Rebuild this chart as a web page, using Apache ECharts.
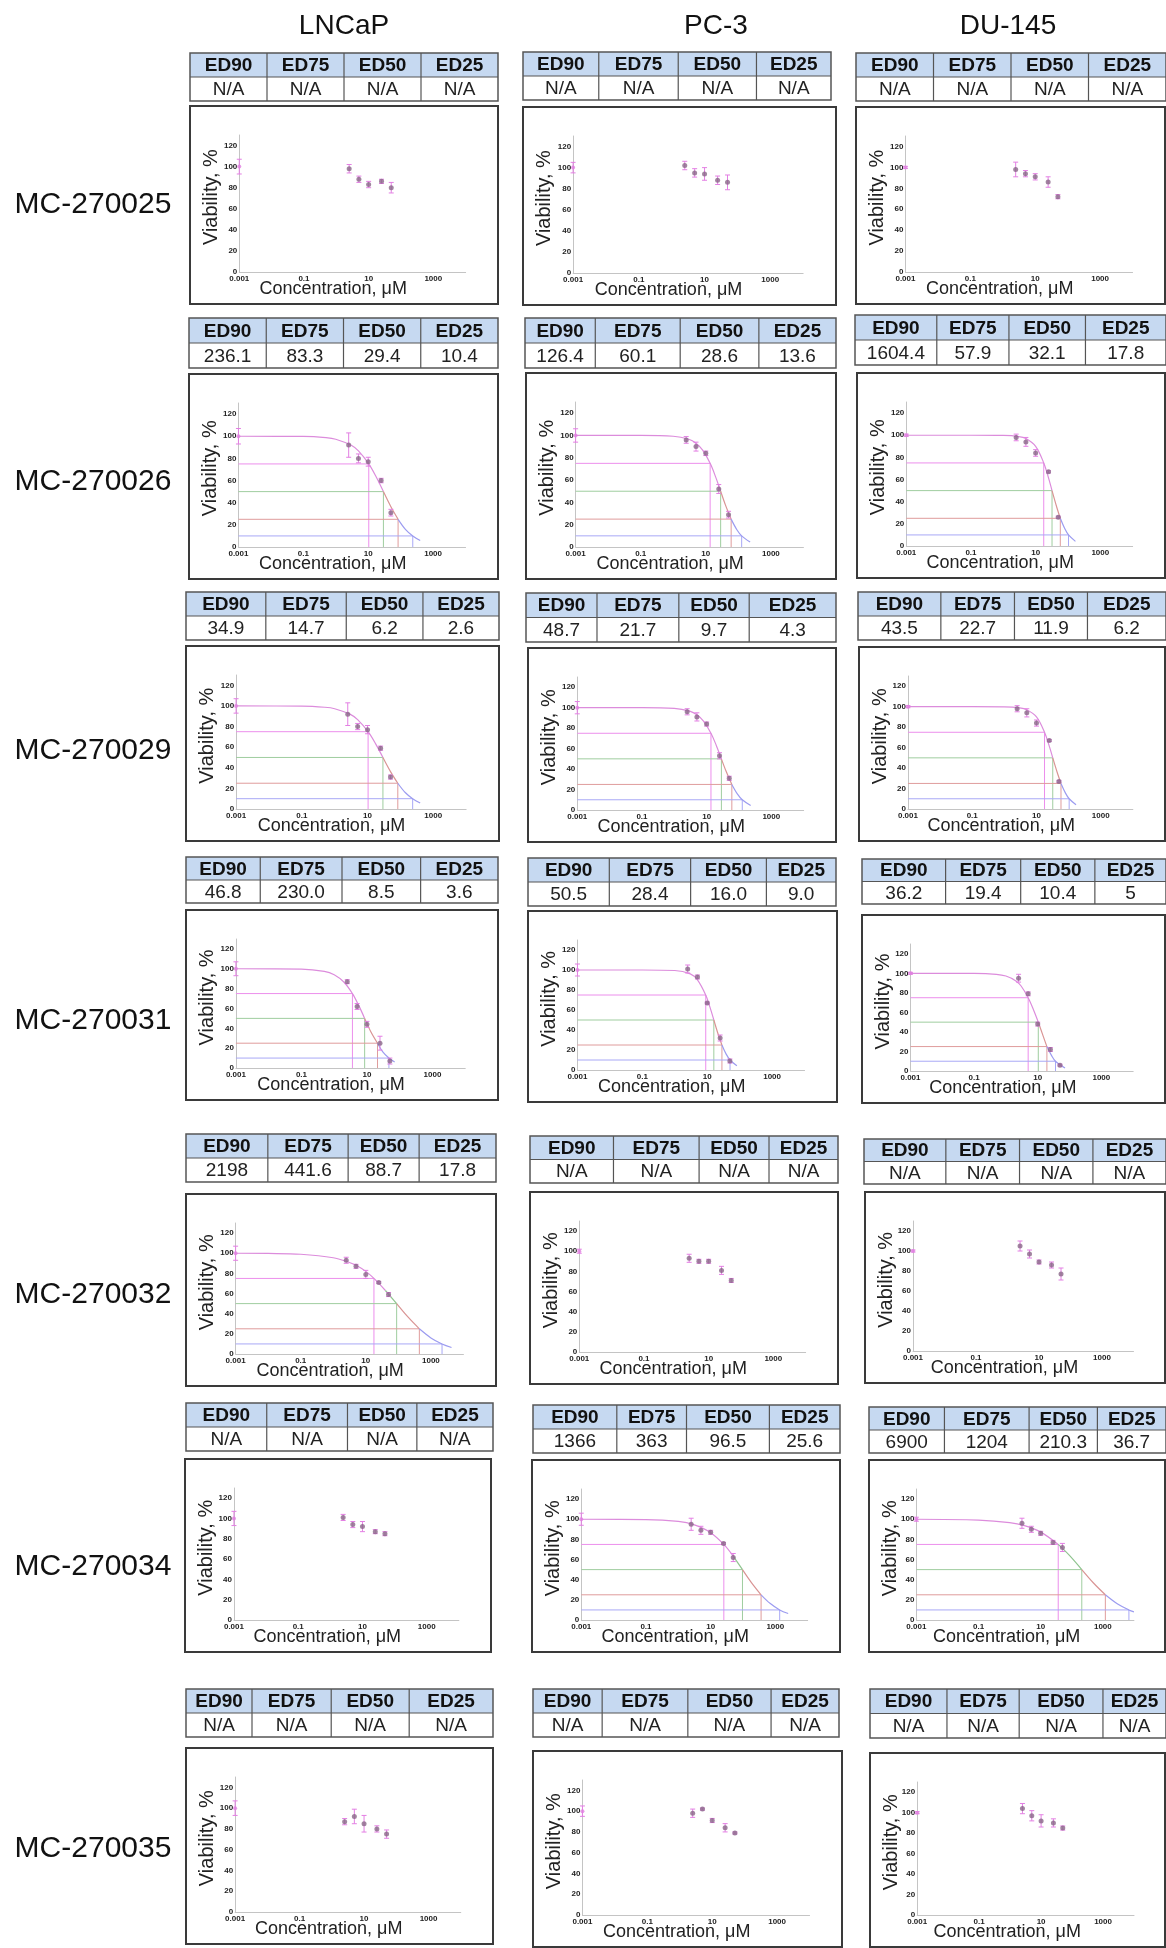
<!DOCTYPE html>
<html>
<head>
<meta charset="utf-8">
<script src="https://cdn.jsdelivr.net/npm/echarts/dist/echarts.min.js"></script>
<style>
html,body{margin:0;padding:0;background:#fff;}
#main{width:1166px;height:1948px;}
</style>
</head>
<body>
<div id="main"></div>
<script>
// ---- data ----
var cellLines = ['LNCaP', 'PC-3', 'DU-145'];
var compounds = ['MC-270025', 'MC-270026', 'MC-270029', 'MC-270031', 'MC-270032', 'MC-270034', 'MC-270035'];
var edHeaders = ['ED90', 'ED75', 'ED50', 'ED25'];
var conc = [2.5, 5, 10, 25, 50];
var ctrlConc = 0.001;
var ctrlValue = 100;
var xTickValues = [0.001, 0.1, 10, 1000];
var xTickLabels = ['0.001', '0.1', '10', '1000'];
var refLevels = [75, 50, 25, 10];

var NA = ['N/A', 'N/A', 'N/A', 'N/A'];
var edTable = [
    [NA, NA, NA],
    [['236.1', '83.3', '29.4', '10.4'], ['126.4', '60.1', '28.6', '13.6'], ['1604.4', '57.9', '32.1', '17.8']],
    [['34.9', '14.7', '6.2', '2.6'], ['48.7', '21.7', '9.7', '4.3'], ['43.5', '22.7', '11.9', '6.2']],
    [['46.8', '230.0', '8.5', '3.6'], ['50.5', '28.4', '16.0', '9.0'], ['36.2', '19.4', '10.4', '5']],
    [['2198', '441.6', '88.7', '17.8'], NA, NA],
    [NA, ['1366', '363', '96.5', '25.6'], ['6900', '1204', '210.3', '36.7']],
    [NA, NA, NA]
];

// viability (%) at each concentration, per compound row and cell line column
var viability = [
    [[98, 88, 83, 86, 80], [102, 95, 94, 88, 86], [98, 94, 91, 86, 72]],
    [[92, 80, 77, 60, 31], [96, 90, 84, 52, 29], [98, 94, 84, 67, 26]],
    [[92, 80, 77, 59, 31], [96, 91, 84, 53, 31], [98, 94, 84, 67, 27]],
    [[87, 62, 44, 25, 7], [101, 93, 67, 32, 9], [95, 79, 48, 22, 6]],
    [[93, 87, 79, 71, 59], [93, 90, 90, 81, 71], [105, 97, 89, 86, 77]],
    [[101, 94, 92, 87, 85], [95, 89, 87, 76, 62], [96, 90, 86, 77, 72]],
    [[87, 92, 85, 80, 75], [98, 102, 91, 84, 79], [104, 97, 92, 90, 85]]
];
var viabilitySd = [
    [[4, 3, 3, 2, 5], [4, 4, 6, 4, 7], [7, 3, 3, 5, 2]],
    [[11, 4, 4, 2, 3], [3, 4, 2, 4, 3], [3, 4, 3, 1, 1]],
    [[11, 3, 4, 2, 2], [3, 4, 2, 3, 2], [3, 4, 3, 1, 1]],
    [[2, 3, 3, 7, 3], [4, 2, 1, 3, 2], [4, 2, 2, 2, 1]],
    [[3, 2, 4, 1, 2], [4, 2, 2, 4, 2], [5, 4, 2, 3, 6]],
    [[3, 3, 5, 2, 2], [6, 4, 2, 1, 4], [5, 3, 2, 2, 4]],
    [[3, 7, 8, 3, 4], [4, 1, 2, 4, 1], [5, 5, 6, 4, 2]]
];
var ctrlSd = [[7, 5, 1], [7, 6, 1], [7, 6, 1], [7, 6, 1], [7, 2, 1], [7, 6, 2], [7, 5, 1]];

// fitted curves read as [concentration, viability] points
var curveLN26 = [[0.001, 100], [0.1, 99.8], [0.5, 98.7], [1, 97.3], [3, 91.8], [5, 86.7], [10.4, 75], [18, 62.7], [29.4, 50], [50, 36.3], [83.3, 25], [140, 16], [236.1, 10], [400, 5.9]];
var curvePC26 = [[0.001, 100], [0.1, 100], [1, 99.3], [3, 96.6], [5, 93], [8, 86.8], [13.6, 75], [20, 62.9], [28.6, 50], [40, 37.8], [60.1, 25], [90, 15.5], [126.4, 10], [230, 4.4]];
var curveDU26 = [[0.001, 100], [0.1, 100], [1, 99.8], [3, 98.8], [5, 97], [10, 90], [17.8, 75], [25, 61.5], [32.1, 50], [45, 35], [57.9, 25], [80, 15.5], [104, 10], [170, 4.2]];
var curveLN31 = [[0.001, 100], [0.1, 99.7], [0.5, 97.4], [1, 93.9], [2, 86.4], [3.6, 75], [5.5, 63.6], [8.5, 50], [13, 36.8], [21, 25], [30, 16.6], [46.8, 10], [70, 6]];
var curvePC31 = [[0.001, 100], [0.1, 100], [1, 99.5], [3, 96.1], [5, 90.2], [9, 75], [12, 63.4], [16, 50], [21, 37.3], [28.4, 25], [38, 16.1], [50.5, 10], [82, 4.2]];
var curveDU31 = [[0.001, 100], [0.1, 99.9], [0.5, 99], [1, 97.2], [2, 92.5], [3, 87], [5, 75], [7.5, 62], [10.4, 50], [14, 38], [19.4, 25], [27, 16], [36.2, 10], [72, 3]];
var curveLN32 = [[0.001, 100], [0.01, 99.8], [0.1, 99], [1, 95.5], [3, 91], [5, 88], [10, 82], [17.8, 75], [40, 63], [88.7, 50], [200, 36.5], [441.6, 25], [1000, 16], [2198, 10], [4300, 6.5]];
var curvePC34 = [[0.001, 100], [0.1, 99.7], [1, 97.8], [3, 94.6], [10, 86.7], [25.6, 75], [50, 63.3], [96.5, 50], [180, 37.4], [363, 25], [700, 16.3], [1366, 10], [2500, 6.4]];
var curveDU34 = [[0.001, 100], [0.1, 99.2], [1, 96.7], [3, 93.6], [10, 87.2], [36.7, 75], [80, 64.8], [210.3, 50], [500, 36.7], [1204, 25], [3000, 15.8], [6900, 10], [10000, 8.1]];

var curves = [
    [null, null, null],
    [curveLN26, curvePC26, curveDU26],
    [curveLN26, curvePC26, curveDU26],
    [curveLN31, curvePC31, curveDU31],
    [curveLN32, null, null],
    [null, curvePC34, curveDU34],
    [null, null, null]
];
// concentration where the curve crosses 75, 50, 25 and 10 %
var crossX = [
    [null, null, null],
    [[10.4, 29.4, 83.3, 236.1], [13.6, 28.6, 60.1, 126.4], [17.8, 32.1, 57.9, 104]],
    [[10.4, 29.4, 83.3, 236.1], [13.6, 28.6, 60.1, 126.4], [17.8, 32.1, 57.9, 104]],
    [[3.6, 8.5, 21, 46.8], [9, 16, 28.4, 50.5], [5, 10.4, 19.4, 36.2]],
    [[17.8, 88.7, 441.6, 2198], null, null],
    [null, [25.6, 96.5, 363, 1366], [36.7, 210.3, 1204, 6900]],
    [null, null, null]
];

// ---- layout (px) ----
var boxPos = [
    [[190, 106, 308, 198], [523, 107, 313, 198], [856, 107, 309, 197]],
    [[189, 374, 309, 205], [526, 373, 310, 206], [857, 373, 308, 205]],
    [[186, 646, 313, 195], [528, 648, 308, 194], [859, 647, 306, 194]],
    [[186, 910, 312, 190], [528, 911, 309, 191], [862, 915, 303, 188]],
    [[186, 1194, 310, 192], [530, 1192, 308, 192], [865, 1192, 300, 191]],
    [[185, 1459, 306, 193], [532, 1460, 308, 192], [869, 1460, 296, 192]],
    [[186, 1748, 307, 196], [533, 1751, 309, 196], [870, 1753, 295, 194]]
];
var tablePos = [
    [[190, 53, 308, 48], [523, 52, 308, 48], [856, 53, 310, 48]],
    [[189, 318, 309, 50], [525, 318, 311, 50], [855, 315, 311, 50]],
    [[186, 592, 313, 48], [526, 593, 310, 49], [858, 592, 308, 48]],
    [[186, 857, 312, 46], [528, 858, 308, 48], [862, 859, 304, 45]],
    [[186, 1134, 310, 48], [530, 1136, 308, 47], [864, 1139, 302, 45]],
    [[186, 1403, 307, 48], [533, 1405, 307, 48], [869, 1407, 297, 46]],
    [[186, 1689, 307, 48], [533, 1689, 306, 48], [870, 1689, 296, 49]]
];
var colSplit = [
    [[.25, .5, .75], [.246, .504, .758], [.25, .5, .75]],
    [[.25, .5, .75], [.226, .499, .752], [.263, .495, .741]],
    [[.255, .512, .757], [.229, .493, .72], [.269, .508, .745]],
    [[.238, .5, .752], [.264, .528, .774], [.275, .522, .766]],
    [[.264, .523, .752], [.271, .549, .776], [.271, .515, .758]],
    [[.263, .526, .752], [.273, .5, .77], [.254, .539, .769]],
    [[.215, .473, .727], [.226, .506, .778], [.26, .504, .787]]
];
var rowLabelY = [205, 482, 751, 1021, 1295, 1567, 1849];
var colTitleX = [344, 716, 1008];

var FONT = '"Liberation Sans", Arial, sans-serif';
var refColors = ['#ec8eec', '#9fcd9f', '#df9c9c', '#a8a8f6'];
var curveColors = ['#dc8cdc', '#8fc48f', '#d99494', '#9c9cf0'];

var grids = [], xAxes = [], yAxes = [], series = [], graphics = [];

function txt(text, x, y, font, color, rot) {
    var el = {
        type: 'text', x: x, y: y, silent: true,
        style: {
            text: text, x: 0, y: 0, font: font, fill: color || '#111',
            align: 'center', verticalAlign: 'middle',
            textAlign: 'center', textVerticalAlign: 'middle'
        }
    };
    if (rot) el.rotation = rot;
    return el;
}

function curveColor(p, q) {
    var my = (p[1] + q[1]) / 2;
    if (my >= 75 || (q[0] <= 50 && my >= 50)) return curveColors[0];
    if (my >= 50) return curveColors[1];
    if (my >= 25) return curveColors[2];
    return curveColors[3];
}

function renderErr(params, api) {
    var x = api.value(0), y = api.value(1), e = api.value(2);
    var hi = api.coord([x, y + e]), lo = api.coord([x, y - e]);
    var st = {stroke: '#e37fe3', lineWidth: 1};
    return {
        type: 'group',
        children: [
            {type: 'line', shape: {x1: hi[0], y1: hi[1], x2: lo[0], y2: lo[1]}, style: st},
            {type: 'line', shape: {x1: hi[0] - 2.5, y1: hi[1], x2: hi[0] + 2.5, y2: hi[1]}, style: st},
            {type: 'line', shape: {x1: lo[0] - 2.5, y1: lo[1], x2: lo[0] + 2.5, y2: lo[1]}, style: st}
        ]
    };
}

function xLabel(v) {
    var e = Math.round(Math.log(v) / Math.LN10);
    for (var i = 0; i < xTickValues.length; i++) {
        if (Math.round(Math.log(xTickValues[i]) / Math.LN10) === e) return xTickLabels[i];
    }
    return '';
}

function addTable(t, split, vals) {
    var x = t[0], y = t[1], w = t[2], h = t[3], hh = h / 2;
    graphics.push({type: 'rect', silent: true, shape: {x: x, y: y, width: w, height: hh}, style: {fill: '#c6d9f1'}});
    graphics.push({type: 'rect', silent: true, shape: {x: x, y: y, width: w, height: h}, style: {fill: 'none', stroke: '#555', lineWidth: 1.5}});
    graphics.push({type: 'line', silent: true, shape: {x1: x, y1: y + hh, x2: x + w, y2: y + hh}, style: {stroke: '#555', lineWidth: 1.2}});
    var edges = [0].concat(split, [1]);
    for (var k = 1; k < 4; k++) {
        var lx = x + w * edges[k];
        graphics.push({type: 'line', silent: true, shape: {x1: lx, y1: y, x2: lx, y2: y + h}, style: {stroke: '#555', lineWidth: 1.2}});
    }
    for (var k = 0; k < 4; k++) {
        var cx = x + w * (edges[k] + edges[k + 1]) / 2;
        graphics.push(txt(edHeaders[k], cx, y + hh / 2 + 1, 'bold 19px ' + FONT, '#111'));
        graphics.push(txt(vals[k], cx, y + hh + hh / 2 + 1, '19px ' + FONT, '#222'));
    }
}

// titles
for (var c = 0; c < 3; c++) graphics.push(txt(cellLines[c], colTitleX[c], 26, '28px ' + FONT, '#111'));
for (var r = 0; r < 7; r++) graphics.push(txt(compounds[r], 93, rowLabelY[r], '30px ' + FONT, '#111'));

for (var r = 0; r < 7; r++) {
    for (var c = 0; c < 3; c++) {
        var idx = grids.length;
        var b = boxPos[r][c];
        grids.push({left: b[0] + b[2] * 0.16, top: b[1] + 29, width: b[2] * 0.735, height: b[3] - 61, outerBoundsMode: 'none'});
        xAxes.push({
            gridIndex: idx, type: 'log', logBase: 10, min: 0.001, max: 10000,
            axisLine: {lineStyle: {color: '#c4c4c4', width: 1}},
            axisTick: {show: false}, splitLine: {show: false},
            axisLabel: {interval: 0, fontSize: 8, fontWeight: 'bold', color: '#222', margin: 3, fontFamily: FONT, formatter: xLabel}
        });
        yAxes.push({
            gridIndex: idx, type: 'value', min: 0, max: 130, interval: 20,
            axisLine: {show: true, lineStyle: {color: '#c4c4c4', width: 1}},
            axisTick: {show: false}, splitLine: {show: false},
            axisLabel: {fontSize: 8, fontWeight: 'bold', color: '#222', margin: 2, fontFamily: FONT,
                formatter: function (v) { return v > 120 ? '' : String(v); }}
        });

        // reference lines at 75/50/25/10 %
        var cx4 = crossX[r][c];
        if (cx4) {
            for (var k = 0; k < 4; k++) {
                series.push({
                    type: 'line', xAxisIndex: idx, yAxisIndex: idx, symbol: 'none', z: 1, silent: true,
                    lineStyle: {color: refColors[k], width: 1},
                    data: [[0.001, refLevels[k]], [cx4[k], refLevels[k]], [cx4[k], 0]]
                });
            }
        }
        // fitted curve, split into coloured runs
        var pts = curves[r][c];
        if (pts) {
            var col = curveColor(pts[0], pts[1]);
            var run = [pts[0]];
            for (var k = 1; k < pts.length; k++) {
                var cc = curveColor(pts[k - 1], pts[k]);
                if (cc !== col) {
                    series.push({type: 'line', xAxisIndex: idx, yAxisIndex: idx, symbol: 'none', smooth: 0.35, z: 2, silent: true,
                        lineStyle: {color: col, width: 1.2}, data: run});
                    run = [pts[k - 1]];
                    col = cc;
                }
                run.push(pts[k]);
            }
            series.push({type: 'line', xAxisIndex: idx, yAxisIndex: idx, symbol: 'none', smooth: 0.35, z: 2, silent: true,
                lineStyle: {color: col, width: 1.2}, data: run});
        }

        // error bars
        var errData = [[ctrlConc, ctrlValue, ctrlSd[r][c]]];
        var ptData = [];
        for (var k = 0; k < conc.length; k++) {
            errData.push([conc[k], viability[r][c][k], viabilitySd[r][c][k]]);
            ptData.push([conc[k], viability[r][c][k]]);
        }
        series.push({type: 'custom', xAxisIndex: idx, yAxisIndex: idx, renderItem: renderErr, z: 3, silent: true, clip: false,
            encode: {x: 0, y: 1}, data: errData});
        series.push({type: 'scatter', xAxisIndex: idx, yAxisIndex: idx, symbolSize: 4, z: 4, silent: true, clip: false,
            itemStyle: {color: '#e07fe0'}, data: [[ctrlConc, ctrlValue]]});
        series.push({type: 'scatter', xAxisIndex: idx, yAxisIndex: idx, symbolSize: 5, z: 4, silent: true, clip: false,
            itemStyle: {color: '#8a6688'}, data: ptData});

        // frame, axis names, table
        graphics.push({type: 'rect', silent: true, shape: {x: b[0], y: b[1], width: b[2], height: b[3]},
            style: {fill: 'none', stroke: '#3a3a3a', lineWidth: 2}});
        graphics.push(txt('Concentration, \u03bcM', b[0] + b[2] * 0.465, b[1] + b[3] - 15, '18px ' + FONT, '#222'));
        graphics.push(txt('Viability, %', b[0] + 21, b[1] + b[3] * 0.46, '20px ' + FONT, '#222', Math.PI / 2));
        addTable(tablePos[r][c], colSplit[r][c], edTable[r][c]);
    }
}

var myChart = echarts.init(document.getElementById('main'));
var option = {
    animation: false,
    backgroundColor: '#fff',
    grid: grids,
    xAxis: xAxes,
    yAxis: yAxes,
    series: series,
    graphic: {elements: graphics}
};
myChart.setOption(option);
</script>
</body>
</html>
